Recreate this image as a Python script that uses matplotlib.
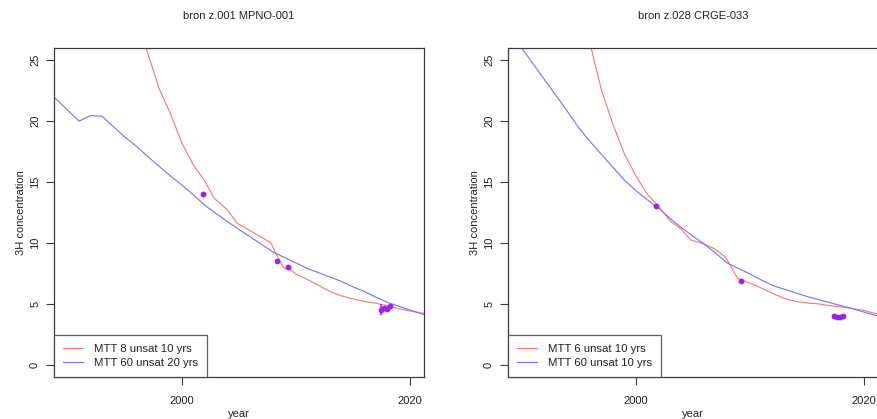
import matplotlib
matplotlib.use("Agg")
import matplotlib.pyplot as plt
import numpy as np

plt.rcParams['font.family'] = ['Liberation Sans', 'DejaVu Sans']
plt.rcParams['font.size'] = 8

# ---- Panel 1: bron z.001 MPNO-001 ----
title1 = "bron z.001 MPNO-001"
label1_red = "MTT 8 unsat 10 yrs"
label1_blue = "MTT 60 unsat 20 yrs"

years1_red = [1995, 1996, 1997, 1998, 1999, 2000, 2001, 2002, 2002.8, 2004, 2004.85,
              2006, 2007, 2007.8, 2008.3, 2008.9, 2009.5, 2010, 2011, 2012, 2013,
              2014, 2015, 2016, 2017, 2018, 2019, 2020, 2021, 2022]
conc1_red = [31.5, 28.6, 25.6, 22.7, 20.6, 18.2, 16.4, 15.1, 13.7, 12.7, 11.6,
             11.0, 10.45, 10.0, 9.0, 7.95, 7.8, 7.45, 7.0, 6.5, 6.0,
             5.65, 5.4, 5.2, 5.05, 4.85, 4.6, 4.42, 4.25, 4.1]

years1_blue = [1988, 1989, 1990, 1991, 1992, 1993, 1994, 1995, 1996, 1997, 1998,
               1999, 2000, 2001, 2002, 2003, 2004, 2005, 2006, 2007, 2008, 2009,
               2010, 2011, 2012, 2013, 2014, 2015, 2016, 2017, 2018, 2019, 2020,
               2021, 2022]
conc1_blue = [22.6, 21.8, 20.9, 20.0, 20.45, 20.4, 19.55, 18.7, 17.95, 17.1, 16.3,
              15.5, 14.75, 13.95, 13.1, 12.4, 11.75, 11.1, 10.5, 9.85, 9.25, 8.8,
              8.35, 7.9, 7.55, 7.2, 6.83, 6.4, 6.0, 5.55, 5.13, 4.8, 4.48,
              4.18, 3.9]

obs1_year = [2001.87, 2008.3, 2009.3, 2017.45, 2017.7, 2017.95, 2018.22]
obs1_conc = [14.0, 8.5, 8.0, 4.5, 4.65, 4.55, 4.8]
obs1_err = [0.0, 0.0, 0.0, 0.45, 0.2, 0.2, 0.15]

# ---- Panel 2: bron z.028 CRGE-033 ----
title2 = "bron z.028 CRGE-033"
label2_red = "MTT 6 unsat 10 yrs"
label2_blue = "MTT 60 unsat 10 yrs"

years2_red = [1995, 1996, 1997, 1998, 1999, 2000, 2001, 2001.7, 2002.5, 2003, 2004,
              2004.8, 2006, 2006.85, 2007.85, 2008.9, 2010, 2011, 2012, 2013, 2014,
              2015, 2016, 2017, 2018, 2019, 2020, 2021, 2022]
conc2_red = [30.5, 26.3, 22.5, 19.7, 17.3, 15.5, 14.0, 13.3, 12.4, 11.8, 11.1,
             10.25, 9.9, 9.55, 8.85, 7.1, 6.7, 6.3, 5.85, 5.45, 5.2,
             5.08, 5.0, 4.85, 4.75, 4.62, 4.45, 4.2, 4.05]

years2_blue = [1988, 1989, 1990, 1991, 1992, 1993, 1994, 1995, 1996, 1997, 1998,
               1999, 2000, 2001, 2002, 2003, 2004, 2005, 2006, 2007, 2008, 2009,
               2010, 2011, 2012, 2013, 2014, 2015, 2016, 2017, 2018, 2019, 2020,
               2021, 2022]
conc2_blue = [29.0, 27.5, 26.0, 24.7, 23.4, 22.1, 20.8, 19.45, 18.3, 17.25, 16.2,
              15.15, 14.3, 13.55, 12.85, 12.0, 11.25, 10.55, 9.9, 9.15, 8.35, 7.9,
              7.45, 6.95, 6.5, 6.2, 5.9, 5.6, 5.35, 5.1, 4.85, 4.6, 4.32,
              4.05, 3.8]

obs2_year = [2001.78, 2009.24, 2017.35, 2017.65, 2017.9, 2018.15]
obs2_conc = [13.0, 6.9, 4.0, 3.95, 3.9, 3.98]
obs2_err = [0.0, 0.0, 0.2, 0.15, 0.15, 0.15]

x_ticks = [2000, 2020]
y_ticks = [0, 5, 10, 15, 20, 25]

RED = '#FF7878'
BLUE = '#7878FF'
PURPLE = '#A020F0'
AXCOL = '#3a3a3a'
TXT = '#222222'

fig = plt.figure(figsize=(8.77, 4.19), dpi=100)
ax1 = fig.add_axes([54 / 877, 1 - 377 / 419, 370 / 877, 329 / 419])
ax2 = fig.add_axes([508 / 877, 1 - 377 / 419, 370 / 877, 329 / 419])

panels = [
    (ax1, title1, years1_red, conc1_red, years1_blue, conc1_blue,
     obs1_year, obs1_conc, obs1_err, label1_red, label1_blue),
    (ax2, title2, years2_red, conc2_red, years2_blue, conc2_blue,
     obs2_year, obs2_conc, obs2_err, label2_red, label2_blue),
]

for (ax, title, yr_r, c_r, yr_b, c_b, oy, oc, oe, lab_r, lab_b) in panels:
    ax.plot(yr_r, c_r, color=RED, lw=0.85, label=lab_r)
    ax.plot(yr_b, c_b, color=BLUE, lw=0.85, label=lab_b)
    ax.errorbar(oy, oc, yerr=oe, fmt='o', color=PURPLE, ms=4.2, mew=0,
                elinewidth=1.2, capsize=0)
    ax.set_xlim(1988.8, 2021.2)
    ax.set_ylim(-1, 26)
    ax.set_xticks(x_ticks)
    ax.set_yticks(y_ticks)
    ax.set_yticklabels([str(v) for v in y_ticks], rotation=90, va='center')
    ax.tick_params(direction='out', length=6, width=0.8, color=AXCOL,
                   labelsize=8, labelcolor=TXT)
    ax.tick_params(axis='x', pad=8)
    ax.tick_params(axis='y', pad=4)
    for sp in ax.spines.values():
        sp.set_color(AXCOL)
        sp.set_linewidth(0.9)
    ax.set_title(title, fontsize=8, pad=21, color=TXT)
    ax.set_xlabel('year', fontsize=8, labelpad=2, color=TXT)
    ax.set_ylabel('3H concentration', fontsize=8, labelpad=3, color=TXT)
    leg = ax.legend(loc='lower left', frameon=True, fancybox=False,
                    borderaxespad=0, handlelength=1.75, handletextpad=0.95,
                    borderpad=0.8, labelspacing=0.3, fontsize=8.2)
    leg.get_frame().set_edgecolor(AXCOL)
    leg.get_frame().set_linewidth(0.9)
    for t in leg.get_texts():
        t.set_color(TXT)

fig.savefig('out.png', dpi=100)
